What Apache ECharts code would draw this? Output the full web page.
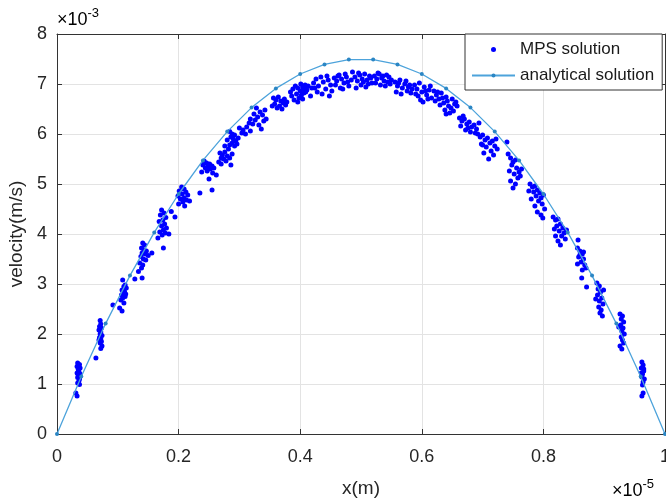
<!DOCTYPE html>
<html>
<head>
<meta charset="utf-8">
<script src="https://cdn.jsdelivr.net/npm/echarts@6/dist/echarts.min.js"></script>
<style>
html,body{margin:0;padding:0;background:#fff;}
#c{width:666px;height:500px;}
</style>
</head>
<body>
<div id="c"></div>
<script>
// x in units of 1e-5 m, velocity in units of 1e-3 m/s
const xTicks = [0, 0.2, 0.4, 0.6, 0.8, 1];
const yTicks = [0, 1, 2, 3, 4, 5, 6, 7, 8];

const analyticalX = [0,0.04,0.08,0.12,0.16,0.2,0.24,0.28,0.32,0.36,0.4,0.44,0.48,0.52,0.56,0.6,0.64,0.68,0.72,0.76,0.8,0.84,0.88,0.92,0.96,1];
const analyticalV = [0,1.152,2.208,3.168,4.032,4.8,5.472,6.048,6.528,6.912,7.2,7.392,7.488,7.488,7.392,7.2,6.912,6.528,6.048,5.472,4.8,4.032,3.168,2.208,1.152,0];

const mpsPoints = [
[.034,1.42],[.037,1.39],[.033,1.35],[.038,1.32],[.035,1.29],[.036,1.25],[.033,1.22],[.038,1.2],[.035,1.17],[.034,1.13],[.037,1.1],[.036,1.06],[.034,1.02],[.037,0.99],[.031,0.82],[.033,0.76],
[.071,2.27],[.072,2.2],[.070,2.15],[.073,2.12],[.069,2.08],[.072,2.04],[.071,2.0],[.074,1.97],[.070,1.93],[.072,1.9],[.069,1.88],[.073,1.85],[.071,1.82],[.074,1.76],[.072,1.71],[.064,1.52],
[.108,3.08],[.112,2.98],[.110,2.95],[.114,2.92],[.107,2.88],[.111,2.85],[.109,2.82],[.113,2.8],[.106,2.78],[.112,2.75],[.108,2.72],[.105,2.68],[.110,2.62],[.092,2.58],[.103,2.52],[.107,2.46],
[.141,3.82],[.144,3.78],[.139,3.72],[.143,3.68],[.147,3.66],[.140,3.62],[.145,3.6],[.150,3.57],[.138,3.55],[.142,3.5],[.146,3.48],[.136,3.42],[.141,3.38],[.139,3.32],[.134,3.25],[.156,3.62],[.128,3.1],[.140,3.12],
[.172,4.48],[.176,4.42],[.170,4.38],[.179,4.33],[.174,4.28],[.168,4.25],[.177,4.2],[.172,4.16],[.180,4.12],[.175,4.08],[.169,4.04],[.178,4.02],[.173,3.98],[.166,3.92],[.184,4.0],[.175,3.72],[.194,4.34],[.188,4.45],
[.205,4.94],[.209,4.9],[.201,4.86],[.212,4.84],[.206,4.8],[.215,4.78],[.199,4.76],[.209,4.72],[.203,4.7],[.213,4.68],[.207,4.64],[.218,4.66],[.200,4.6],[.210,4.56],[.235,4.82],[.255,4.88],
[.242,5.46],[.246,5.42],[.240,5.38],[.251,5.4],[.248,5.35],[.255,5.36],[.244,5.32],[.252,5.3],[.258,5.32],[.247,5.26],[.238,5.24],[.256,5.22],[.262,5.18],[.250,5.1],
[.268,5.62],[.272,5.58],[.276,5.64],[.270,5.52],[.280,5.56],[.274,5.5],[.284,5.52],[.278,5.46],[.266,5.44],[.288,5.6],[.282,5.7],[.276,5.76],[.270,5.4],[.286,5.38],
[.284,6.05],[.288,6.0],[.292,5.98],[.286,5.94],[.290,5.9],[.294,5.86],[.288,5.82],[.296,5.8],[.284,5.78],[.292,5.76],[.298,5.92],[.280,5.88],
[.300,6.12],[.306,6.08],[.312,6.14],[.304,6.02],[.318,6.06],[.322,6.2],[.326,6.28],[.330,6.34],[.318,6.3],[.334,6.44],[.328,6.52],[.338,6.38],[.324,6.4],[.340,6.26],[.332,6.18],[.336,6.1],[.344,6.3],[.316,6.22],[.310,6.0],[.342,6.48],
[.356,6.72],[.360,6.68],[.364,6.74],[.368,6.66],[.358,6.6],[.372,6.62],[.366,6.56],[.376,6.58],[.362,6.52],[.370,6.5],[.374,6.7],[.378,6.64],[.354,6.56],
[.384,6.84],[.388,6.9],[.392,6.96],[.396,6.92],[.400,6.86],[.404,6.94],[.408,6.98],[.386,6.76],[.394,6.8],[.398,6.72],[.402,6.78],[.390,6.68],[.406,6.82],[.410,6.9],[.396,6.64],
[.401,7.0],[.405,6.9],[.409,6.84],[.413,6.96],[.417,6.76],[.404,6.7],[.411,6.88],[.419,6.92],
[.422,7.02],[.426,7.1],[.430,6.96],[.434,7.14],[.438,7.04],[.442,6.9],[.446,7.08],[.450,6.98],[.428,6.84],[.436,6.8],[.444,7.16],[.452,6.86],[.424,6.92],[.448,6.76],
[.456,7.12],[.460,7.06],[.464,7.18],[.468,7.1],[.472,7.02],[.476,7.14],[.480,6.96],[.484,7.08],[.458,6.98],[.466,6.92],[.474,7.2],[.486,7.24],[.462,7.16],[.478,7.04],[.470,6.9],
[.490,7.14],[.494,7.06],[.498,7.18],[.502,7.1],[.506,7.2],[.510,7.08],[.514,7.16],[.518,7.02],[.492,6.92],[.500,6.98],[.508,6.94],[.516,7.12],[.496,7.22],[.504,7.04],[.512,7.0],
[.522,7.16],[.526,7.1],[.530,7.2],[.534,7.12],[.538,7.06],[.542,7.18],[.546,7.14],[.550,7.08],[.524,7.02],[.532,6.98],[.540,6.96],[.548,7.0],[.528,7.22],[.544,7.04],[.536,7.16],
[.556,7.04],[.560,6.96],[.564,7.08],[.568,6.92],[.572,7.0],[.576,6.86],[.580,6.98],[.584,6.9],[.558,6.84],[.566,6.8],[.574,7.06],[.582,6.82],[.562,7.02],[.578,6.94],
[.588,6.98],[.592,6.9],[.596,7.02],[.600,6.84],[.604,6.94],[.608,6.78],[.612,6.88],[.616,6.72],[.590,6.8],[.598,6.68],[.606,6.86],[.614,6.96],[.594,6.76],[.602,6.64],[.610,6.7],
[.620,6.86],[.624,6.78],[.628,6.7],[.632,6.82],[.636,6.62],[.640,6.74],[.644,6.56],[.622,6.66],[.630,6.58],[.638,6.48],[.642,6.66],[.626,6.84],[.634,6.72],[.646,6.42],[.640,6.4],
[.650,6.7],[.654,6.6],[.648,6.52],[.656,6.64],[.652,6.46],[.658,6.56],
[.662,6.32],[.666,6.26],[.670,6.3],[.674,6.2],[.678,6.24],[.682,6.14],[.686,6.18],[.690,6.1],[.664,6.16],[.672,6.08],[.680,6.04],[.688,6.02],[.676,6.12],[.694,6.22],[.668,6.36],
[.692,6.0],[.696,5.94],[.700,5.98],[.704,5.88],[.708,5.92],[.712,5.82],[.716,5.86],[.720,5.76],[.724,5.7],[.698,5.8],[.706,5.74],[.714,5.66],[.718,5.58],[.710,5.5],[.702,5.62],[.722,5.9],[.700,5.78],[.740,5.84],
[.742,5.6],[.746,5.52],[.750,5.44],[.754,5.48],[.748,5.38],[.756,5.32],[.744,5.26],[.752,5.2],[.760,5.24],[.758,5.12],[.746,5.06],[.754,5.0],[.762,5.16],[.750,4.92],[.764,5.3],
[.778,5.0],[.782,4.94],[.786,4.96],[.790,4.88],[.784,4.84],[.794,4.82],[.788,4.76],[.796,4.72],[.780,4.7],[.792,4.66],[.798,4.6],[.786,4.56],[.800,4.78],[.776,4.86],[.802,4.5],[.790,4.44],[.796,4.38],[.799,4.32],
[.816,4.34],[.820,4.28],[.824,4.3],[.828,4.2],[.822,4.16],[.832,4.12],[.826,4.06],[.834,4.02],[.818,4.1],[.830,3.96],[.836,3.9],[.824,3.86],[.828,3.78],[.820,3.96],[.838,4.08],[.857,3.88],
[.856,3.72],[.860,3.66],[.864,3.6],[.858,3.54],[.866,3.5],[.862,3.44],[.868,3.38],[.856,3.4],[.870,3.32],[.864,3.28],[.860,3.58],[.866,3.64],[.863,3.12],[.871,2.94],
[.888,3.02],[.892,2.96],[.890,2.9],[.894,2.84],[.889,2.78],[.896,2.72],[.892,2.66],[.898,2.6],[.891,2.54],[.895,2.48],[.893,2.42],[.897,2.36],[.886,2.7],[.899,2.88],
[.926,2.4],[.930,2.36],[.928,2.3],[.932,2.24],[.927,2.18],[.931,2.12],[.929,2.06],[.933,2.0],[.928,1.94],[.930,1.88],[.932,1.82],[.926,1.76],[.929,1.7],[.924,2.14],
[.962,1.44],[.964,1.38],[.961,1.32],[.965,1.26],[.963,1.2],[.962,1.14],[.966,1.1],[.964,1.04],[.963,0.98],[.961,1.22],[.965,1.3],[.964,0.82],[.962,0.76]
];

const FONT = '"Liberation Sans", Arial, sans-serif';
const AX = '#333333';
const GRIDC = '#e3e3e3';

const chart = echarts.init(document.getElementById('c'), null, {renderer: 'canvas'});

const commonTick = {show: true, inside: true, length: 5, lineStyle: {color: AX, width: 1}};

chart.setOption({
  animation: false,
  backgroundColor: '#ffffff',
  textStyle: {fontFamily: FONT},
  grid: {left: 57, right: 1, top: 34, bottom: 66, containLabel: false, outerBoundsMode: 'none'},
  legend: {
    orient: 'vertical',
    left: 465, top: 34,
    itemWidth: 43, itemHeight: 5,
    itemGap: 9,
    padding: [7, 8, 6, 6],
    backgroundColor: '#ffffff',
    borderColor: AX, borderWidth: 1,
    textStyle: {fontFamily: FONT, fontSize: 17, color: '#1a1a1a'},
    data: [
      {name: 'MPS solution', icon: 'circle'},
      {name: 'analytical solution'}
    ]
  },
  xAxis: [{
    type: 'value', min: 0, max: 1, interval: 0.2,
    position: 'bottom',
    name: 'x(m)', nameLocation: 'middle', nameGap: 45,
    nameTextStyle: {fontFamily: FONT, fontSize: 19, color: '#262626'},
    axisLine: {show: true, onZero: false, lineStyle: {color: AX, width: 1}},
    axisTick: commonTick,
    axisLabel: {fontFamily: FONT, fontSize: 18, color: '#262626', margin: 14,
      formatter: v => String(xTicks.find(t => Math.abs(t - v) < 1e-9) ?? v)},
    splitLine: {show: true, lineStyle: {color: GRIDC, width: 1}}
  }, {
    type: 'value', min: 0, max: 1, interval: 0.2,
    position: 'top',
    axisLine: {show: true, onZero: false, lineStyle: {color: AX, width: 1}},
    axisTick: commonTick,
    axisLabel: {show: false},
    splitLine: {show: false}
  }],
  yAxis: [{
    type: 'value', min: 0, max: 8, interval: 1,
    position: 'left',
    name: 'velocity(m/s)', nameLocation: 'middle', nameGap: 28,
    nameTextStyle: {fontFamily: FONT, fontSize: 19, color: '#262626'},
    axisLine: {show: true, onZero: false, lineStyle: {color: AX, width: 1}},
    axisTick: commonTick,
    axisLabel: {fontFamily: FONT, fontSize: 18, color: '#262626', margin: 10,
      formatter: v => String(yTicks.find(t => Math.abs(t - v) < 1e-9) ?? v)},
    splitLine: {show: true, lineStyle: {color: GRIDC, width: 1}}
  }, {
    type: 'value', min: 0, max: 8, interval: 1,
    position: 'right',
    axisLine: {show: true, onZero: false, lineStyle: {color: AX, width: 1}},
    axisTick: commonTick,
    axisLabel: {show: false},
    splitLine: {show: false}
  }],
  graphic: [
    {type: 'text', left: 57, top: 7, style: {
      text: '{a|×10}{b|-3}', rich: {
        a: {fontFamily: FONT, fontSize: 18, color: '#262626', verticalAlign: 'bottom', lineHeight: 22},
        b: {fontFamily: FONT, fontSize: 13, color: '#262626', verticalAlign: 'top', lineHeight: 22, padding: [0,0,10,0]}
      }}},
    {type: 'text', left: 612, top: 478, style: {
      text: '{a|×10}{b|-5}', rich: {
        a: {fontFamily: FONT, fontSize: 18, color: '#262626', verticalAlign: 'bottom', lineHeight: 22},
        b: {fontFamily: FONT, fontSize: 13, color: '#262626', verticalAlign: 'top', lineHeight: 22, padding: [0,0,10,0]}
      }}}
  ],
  series: [{
    name: 'MPS solution',
    type: 'scatter',
    xAxisIndex: 0, yAxisIndex: 0,
    symbol: 'circle', symbolSize: 5,
    itemStyle: {color: '#0000ff', opacity: 1},
    data: mpsPoints
  }, {
    name: 'analytical solution',
    type: 'line',
    xAxisIndex: 0, yAxisIndex: 0,
    symbol: 'circle', symbolSize: 4, showSymbol: true,
    lineStyle: {color: '#4da3db', width: 1.3},
    itemStyle: {color: '#2b86c4', borderWidth: 0},
    data: analyticalX.map((x, i) => [x, analyticalV[i]])
  }]
});
</script>
</body>
</html>
